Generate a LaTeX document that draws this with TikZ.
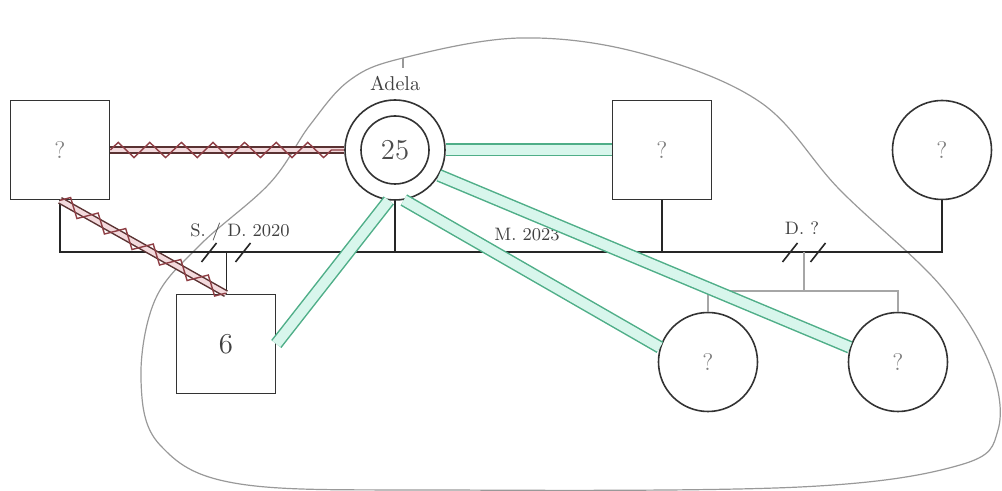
\documentclass[tikz,border=0pt]{standalone}
\usepackage{tikz}
\usetikzlibrary{shapes.geometric, positioning, calc, decorations.pathmorphing}
\usepackage{xcolor}
\definecolor{closeline}{HTML}{4FAE88}
\definecolor{closefill}{HTML}{D8F6EC}
\definecolor{hostline}{HTML}{5A3232}
\definecolor{hostfill}{HTML}{F3DADD}
\definecolor{hostzig}{HTML}{8E3E44}

\begin{document}
\begin{tikzpicture}[
        x=0.5pt, y=-0.5pt,
        male/.style={rectangle, draw=black!80, line width=0.8pt, minimum size=49.5pt, inner sep=0pt, font=\large, text=black!50},
        female/.style={circle, draw=black!80, line width=0.8pt, minimum size=49.5pt, inner sep=0pt, font=\large, text=black!50},
        famline/.style={draw=black!85, line width=0.8pt},
        kidline/.style={draw=black!35, line width=0.9pt},
        slash/.style={draw=black!85, line width=0.8pt},
        tag/.style={font=\small, text=black!75, inner sep=1pt},
        blob/.style={draw=black!40, line width=0.6pt},
        close/.style={draw=closeline, line width=6.5pt, postaction={draw=closefill, line width=5pt}},
        hostile/.style={draw=hostline, line width=3.75pt, postaction={draw=hostfill, line width=2.25pt},
            postaction={draw=hostzig, line width=0.7pt, decorate, decoration={zigzag, segment length=15.8pt, amplitude=3.8pt}}}
    ]
        \useasboundingbox (0,0) rectangle (1002,491);

        % ================= HOGAR =================
        \draw[blob] plot[smooth cycle, tension=0.6] coordinates {
            (200,245) (270,183) (310,125) (350,80) (403,58) (520,38) (640,53) (760,102)
            (840,190) (940,285) (990,365) (998,430) (960,465) (800,487) (450,490)
            (240,484) (160,445) (141,380) (155,300)};
        \draw[blob] (403,58) -- (403,68);

        % ================= PERSONAS =================
        \node[male] (lsq) at (60,150) {?};
        \node[female, minimum size=50pt] (adela) at (395,150) {};
        \node[circle, draw=black!80, line width=0.8pt, minimum size=34pt, inner sep=0pt, font=\Large, text=black!70] (adelain) at (adela) {25};
        \node[font=\normalsize, text=black!75] (adelaname) at (395,83) {Adela};
        \node[male] (rsq) at (662,150) {?};
        \node[female] (rcirc) at (942,150) {?};
        \node[male, font=\Large, text=black!75] (six) at (226,344) {6};
        \node[female] (bot1) at (708,362) {?};
        \node[female] (bot2) at (898,362) {?};

        % ================= UNIONES =================
        \coordinate (mrow) at (0,252);
        \draw[famline] (lsq.south) |- (mrow -| adela.south) -- (adela.south);
        \draw[famline] (mrow -| adela.south) -| (rsq.south);
        \draw[famline] (mrow -| rsq.south) -| (rcirc.south);

        \coordinate (sdsplit) at (mrow -| six.north);
        \coordinate (dsplit) at (804,252);
        \draw[famline, line width=0.5pt] (sdsplit) -- (six.north);
        \draw[kidline] (dsplit) -- ++(0,39) coordinate (dbar);
        \draw[kidline] (bot1.north) |- (dbar) -| (bot2.north);

        \foreach \dx in {-17,17}
            \draw[slash] ($(sdsplit)+(\dx,0)+(-7.5,10)$) -- ++(15,-19);
        \foreach \dx in {-14,14}
            \draw[slash] ($(dsplit)+(\dx,0)+(-7.5,10)$) -- ++(15,-19);

        \node[tag] (sdtag) at (240,232) {S. / D. 2020};
        \node[tag] (mtag) at (527,235) {M. 2023};
        \node[tag] (dtag) at (802,228) {D. ?};

        % ================= RELACIONES =================
        \draw[hostile] (lsq.east) -- (adela.west);
        \draw[hostile] (lsq.south) -- (six.north);
        \draw[close] (adela.east) -- (rsq.west);
        \draw[close] (adela.-97) -- (six.east);
        \draw[close] (adela.-80) -- (bot1.163);
        \draw[close] (adela.-30) -- (bot2.163);

    \end{tikzpicture}
\end{document}
